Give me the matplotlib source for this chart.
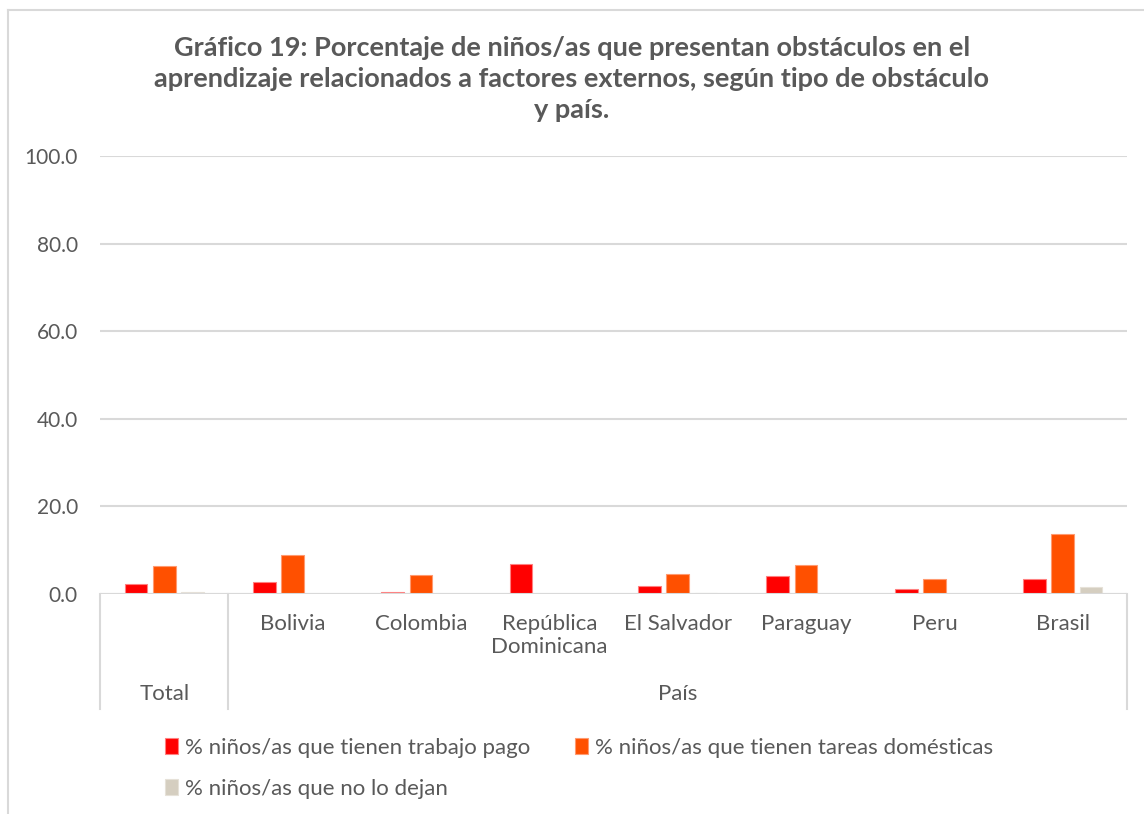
import matplotlib
matplotlib.use("Agg")
import matplotlib.pyplot as plt
import numpy as np

plt.rcParams['font.family'] = ['Lato', 'DejaVu Sans']

categories = ["", "Bolivia", "Colombia", "República\nDominicana", "El Salvador",
              "Paraguay", "Peru", "Brasil"]
groups = ["Total", "País"]
series_names = ["% niños/as que tienen trabajo pago",
                "% niños/as que tienen tareas domésticas",
                "% niños/as que no lo dejan"]
trabajo_pago = [2.3, 2.7, 0.5, 6.8, 1.9, 4.0, 1.1, 3.4]
tareas_domesticas = [6.3, 8.8, 4.3, 0.0, 4.6, 6.7, 3.4, 13.7]
no_lo_dejan = [0.4, 0.0, 0.0, 0.0, 0.2, 0.0, 0.0, 1.7]
yticks = [0, 20, 40, 60, 80, 100]

colors = ["#FF0000", "#FF5000", "#D5CEC0"]
edges = ["#FF8080", "#FF9A70", "#E6E1D8"]
txt = "#595959"
grid = "#D9D9D9"
fs = 16

fig = plt.figure(figsize=(11.44, 8.14), dpi=100)
ax = fig.add_axes([100 / 1144, 1 - 594 / 814, 1027 / 1144, 438 / 814])

x = np.arange(len(categories))
w = 0.177
step = 0.22
handles = []
for i, (vals, name) in enumerate(zip([trabajo_pago, tareas_domesticas, no_lo_dejan], series_names)):
    b = ax.bar(x + (i - 1) * step, vals, width=w, color=colors[i], edgecolor=edges[i],
               linewidth=0.8, label=name, zorder=3)
    handles.append(b)

ax.set_xlim(-0.5, len(categories) - 0.5)
ax.set_ylim(0, 100)
ax.set_yticks(yticks)
ax.set_yticklabels([f"{v:.1f}" for v in yticks], color=txt, fontsize=15)
ax.tick_params(axis='y', length=0, pad=16)
ax.set_xticks([])
ax.grid(axis='y', color=grid, linewidth=1.5, zorder=0)
for s in ax.spines.values():
    s.set_visible(False)
ax.axhline(0, color=grid, linewidth=1.5, zorder=4)

# category labels and group separators
trans = ax.get_xaxis_transform()
for xi, c in zip(x, categories):
    ax.text(xi, -0.045, c, transform=trans, ha='center', va='top',
            fontsize=fs, color=txt, linespacing=1.2)
sep_bottom = -(709 - 594) / 438
for xs in [-0.5, 0.5, len(categories) - 0.5]:
    ax.plot([xs, xs], [0, sep_bottom], transform=trans, color=grid,
            linewidth=1.5, clip_on=False)
ax.text(0, -0.228, groups[0], transform=trans, ha='center', va='center',
        fontsize=fs, color=txt)
ax.text((1 + len(categories) - 1) / 2, -0.228, groups[1], transform=trans,
        ha='center', va='center', fontsize=fs, color=txt)

fig.text(0.5, 1 - 79 / 814,
         "Gráfico 19: Porcentaje de niños/as que presentan obstáculos en el\n"
         "aprendizaje relacionados a factores externos, según tipo de obstáculo\n"
         "y país.",
         ha='center', va='center', fontsize=19.5, fontweight='bold', color=txt,
         linespacing=1.35)

order = [0, 2, 1]
fig.legend([handles[i] for i in order], [series_names[i] for i in order],
           loc='upper left', bbox_to_anchor=(145 / 1144, 1 - 718 / 814), ncol=2,
           frameon=False, fontsize=fs, labelcolor=txt, handlelength=0.6,
           handleheight=0.75, handletextpad=0.3, columnspacing=2.0,
           labelspacing=0.93)

# outer chart border
fig.add_artist(plt.Line2D([8 / 1144, 8 / 1144], [0, 1 - 10 / 814],
                          transform=fig.transFigure, color=grid, linewidth=1.5))
fig.add_artist(plt.Line2D([8 / 1144, 1], [1 - 10 / 814, 1 - 10 / 814],
                          transform=fig.transFigure, color=grid, linewidth=1.5))

fig.savefig("out.png", dpi=100)
